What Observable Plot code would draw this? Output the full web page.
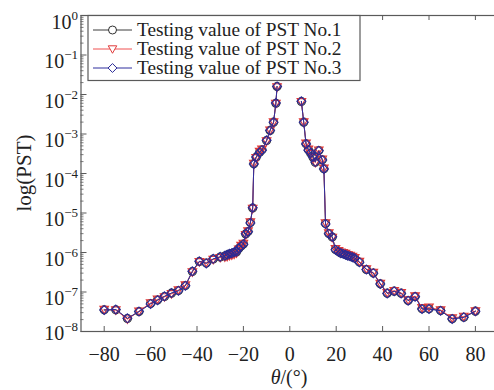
<!DOCTYPE html>
<html><head><meta charset="utf-8">
<script src="https://cdn.jsdelivr.net/npm/d3@7"></script>
<script src="https://cdn.jsdelivr.net/npm/@observablehq/plot@0.6"></script>
<style>
html,body{margin:0;padding:0;background:#fff;overflow:hidden;width:494px;height:390px}
#chart{position:relative;width:494px;height:390px;overflow:hidden}
#chart svg{max-width:none !important;height:390px !important;width:502px !important}
</style></head><body><div id="chart"></div>
<script>
// incidence angle θ (degrees)
const angles = [-80,-75,-70,-65,-60,-57,-54,-51,-48,-45,-42,-39,-36,-33,-30,-28,-27,-26,-25,-24,-23,-22,-21,-20,-19,-18,-17,-16,-15.5,-14.5,-13,-12,-10,-8.5,-7,-6,-5.5,
  5,6,7,8,9,10,11,12.5,14,14.7,15.4,16.8,18.3,19.7,21,22,23,24,25,26,27,28,30,33,36,39,42,45,48,51,54,57,60,65,70,75,80];
const pst1 = [3.54e-8,3.54e-8,2.13e-8,3.21e-8,5.12e-8,6.27e-8,7.69e-8,9.33e-8,1.09e-7,1.46e-7,3.30e-7,5.91e-7,5.42e-7,6.84e-7,7.69e-7,8.15e-7,8.64e-7,9.16e-7,9.43e-7,1.00e-6,1.03e-6,1.26e-6,1.46e-6,1.64e-6,2.94e-6,3.40e-6,5.74e-6,1.34e-5,1.76e-4,2.59e-4,3.46e-4,3.98e-4,6.84e-4,1.23e-3,1.99e-3,6.02e-3,1.59e-2,
  6.65e-3,1.99e-3,5.65e-4,3.98e-4,3.27e-4,2.59e-4,1.93e-4,3.82e-4,2.22e-4,1.32e-4,5.42e-6,3.03e-6,2.47e-6,1.19e-6,1.06e-6,9.71e-7,9.43e-7,8.90e-7,8.39e-7,8.15e-7,7.69e-7,7.26e-7,5.74e-7,3.72e-7,3.03e-7,1.61e-7,9.33e-8,1.05e-7,9.33e-8,6.10e-8,7.69e-8,3.76e-8,3.76e-8,3.40e-8,2.10e-8,2.30e-8,3.27e-8];
const pst2 = [3.6e-8,3.5e-8,2.05e-8,3.25e-8,5.3e-8,6.5e-8,7.5e-8,9.0e-8,1.12e-7,1.5e-7,3.2e-7,5.8e-7,5.6e-7,6.6e-7,7.4e-7,7.6e-7,7.9e-7,8.3e-7,8.6e-7,9.0e-7,9.6e-7,1.2e-6,1.5e-6,1.7e-6,2.8e-6,3.5e-6,5.9e-6,1.3e-5,1.8e-4,2.5e-4,3.6e-4,4.1e-4,6.6e-4,1.25e-3,2.0e-3,5.9e-3,1.55e-2,
  6.5e-3,2.0e-3,5.8e-4,4.1e-4,3.2e-4,2.5e-4,1.9e-4,3.9e-4,2.3e-4,1.35e-4,5.6e-6,3.1e-6,2.4e-6,1.25e-6,1.1e-6,1.02e-6,9.9e-7,9.4e-7,8.8e-7,8.4e-7,7.9e-7,7.4e-7,5.9e-7,3.8e-7,3.1e-7,1.65e-7,9.6e-8,1.08e-7,9.6e-8,6.3e-8,7.9e-8,4.0e-8,4.1e-8,3.5e-8,2.2e-8,2.4e-8,3.3e-8];
const pst3 = [3.5e-8,3.6e-8,2.15e-8,3.2e-8,5.0e-8,6.2e-8,7.8e-8,9.4e-8,1.07e-7,1.44e-7,3.35e-7,6.0e-7,5.3e-7,6.9e-7,7.8e-7,8.3e-7,8.8e-7,9.3e-7,9.6e-7,1.02e-6,1.05e-6,1.28e-6,1.44e-6,1.62e-6,2.98e-6,3.35e-6,5.6e-6,1.36e-5,1.74e-4,2.62e-4,3.4e-4,3.9e-4,6.9e-4,1.22e-3,1.98e-3,6.1e-3,1.6e-2,
  6.7e-3,1.97e-3,5.6e-4,3.9e-4,3.3e-4,2.62e-4,1.95e-4,3.75e-4,2.2e-4,1.3e-4,5.3e-6,3.0e-6,2.5e-6,1.17e-6,1.04e-6,9.6e-7,9.3e-7,8.8e-7,8.3e-7,8.0e-7,7.6e-7,7.2e-7,5.7e-7,3.7e-7,3.0e-7,1.6e-7,9.2e-8,1.04e-7,9.2e-8,6.0e-8,7.6e-8,3.7e-8,3.7e-8,3.35e-8,2.08e-8,2.28e-8,3.25e-8];

const seriesNames = ["Testing value of PST No.1","Testing value of PST No.2","Testing value of PST No.3"];
const xTicks = [-80,-60,-40,-20,0,20,40,60,80];
const yExponents = [-8,-7,-6,-5,-4,-3,-2,-1,0];
const yTicks = yExponents.map(e => Math.pow(10, e));
const yMinor = [];
yExponents.slice(0,-1).forEach(e => { for (let k = 2; k <= 9; k++) yMinor.push(k * Math.pow(10, e)); });

const lineColors = ["#3c3c3c", "#f05050", "#2e2e9e"];
const markColors = ["#303030", "#e03a3a", "#2a2a96"];

const triDown = {draw(ctx, size) { const s = Math.sqrt(size) * 0.6; ctx.moveTo(-s, -s * 0.75); ctx.lineTo(s, -s * 0.75); ctx.lineTo(0, s * 1.0); ctx.closePath(); }};
const symbols = ["circle", triDown, "diamond2"];

const allVals = [pst1, pst2, pst3];
const rows = [];
allVals.forEach((vals, i) => angles.forEach((a, j) => rows.push({angle: a, pst: vals[j], series: i, seg: i + (a < 0 ? "L" : "R")})));

const W = 502, H = 390, mL = 80.5, mR = 3.9, mT = 15, mB = 59;
const innerW = W - mL - mR, innerH = H - mT - mB;
const font = "'Liberation Serif','Times New Roman',serif";
const frameColor = "#5a5a5a";

const seriesMarks = [];
[0, 1, 2].forEach(i => {
  const d = rows.filter(r => r.series === i);
  seriesMarks.push(Plot.line(d, {x: "angle", y: "pst", z: "seg", stroke: lineColors[i], strokeWidth: 1}));
  seriesMarks.push(Plot.dot(d, {x: "angle", y: "pst", symbol: symbols[i], r: 4, stroke: markColors[i], strokeWidth: 1.15, fill: "none"}));
});

const plot = Plot.plot({
  width: W, height: H, marginLeft: mL, marginRight: mR, marginTop: mT, marginBottom: mB,
  style: {fontFamily: font, background: "#fff", color: "#222", maxWidth: "none"},
  x: {domain: [-90, 90]},
  y: {type: "log", domain: [1e-8, 1]},
  marks: [
    ...seriesMarks,
    Plot.frame({stroke: frameColor, strokeWidth: 1.2}),
    Plot.tickX(xTicks, {x: d => d, insetTop: innerH - 5, stroke: frameColor}),
    Plot.tickX(xTicks, {x: d => d, insetBottom: innerH - 5, stroke: frameColor}),
    Plot.tickY(yTicks, {y: d => d, insetRight: innerW - 6, stroke: frameColor}),
    Plot.tickY(yMinor, {y: d => d, insetRight: innerW - 3, stroke: frameColor, strokeWidth: 0.8}),
    Plot.axisX({ticks: xTicks, tickSize: 0, tickPadding: 15, fontSize: 20, label: null,
      tickFormat: d => d < 0 ? "\u2212" + Math.abs(d) : String(d)}),
    Plot.axisY({ticks: yTicks, tickSize: 0, tickPadding: 3, fontSize: 20, label: null,
      tickFormat: d => "10^" + Math.round(Math.log10(d))})
  ]
});
document.getElementById("chart").appendChild(plot);

const svg = d3.select(plot);
svg.style("max-width", "none").style("overflow", "visible");
// superscript exponents on y tick labels
svg.selectAll('g[aria-label="y-axis tick label"] text').each(function() {
  const t = d3.select(this);
  const txt = t.text();
  const e = txt.split("^")[1];
  const shift = e === "-8" ? 2 : 7;
  t.text(null);
  t.append("tspan").attr("dy", shift).text("10");
  t.append("tspan").attr("dy", -9).attr("font-size", 13).text(e.replace("-", "\u2212"));
});

// axis titles
svg.append("text").attr("transform", "translate(24,173) rotate(-90)")
  .attr("text-anchor", "middle").attr("dy", "0.35em")
  .attr("font-family", font).attr("font-size", 21).attr("fill", "#222").text("log(PST)");
const xl = svg.append("text").attr("x", 289).attr("y", 384).attr("text-anchor", "middle")
  .attr("font-family", font).attr("font-size", 20).attr("fill", "#222");
xl.append("tspan").attr("font-style", "italic").text("\u03B8");
xl.append("tspan").text("/(\u00B0)");

// legend
const lg = svg.append("g").attr("text-anchor", "start");
lg.append("rect").attr("x", 88).attr("y", 15.5).attr("width", 272).attr("height", 65)
  .attr("fill", "#fff").attr("stroke", frameColor).attr("stroke-width", 1.2);
const symTypes = [d3.symbolCircle, triDown, d3.symbolDiamond2];
seriesNames.forEach((name, i) => {
  const y = 30 + i * 19;
  lg.append("line").attr("x1", 93).attr("x2", 132).attr("y1", y).attr("y2", y)
    .attr("stroke", lineColors[i]).attr("stroke-width", 1);
  lg.append("path").attr("transform", `translate(112.5,${y})`)
    .attr("d", d3.symbol(symTypes[i], Math.PI * 16)())
    .attr("fill", "#fff").attr("stroke", markColors[i]).attr("stroke-width", 1);
  lg.append("text").attr("x", 137).attr("y", y).attr("dy", "0.33em").attr("text-anchor", "start")
    .attr("font-family", font).attr("font-size", 19.3).attr("fill", "#222").text(name);
});
</script></body></html>
